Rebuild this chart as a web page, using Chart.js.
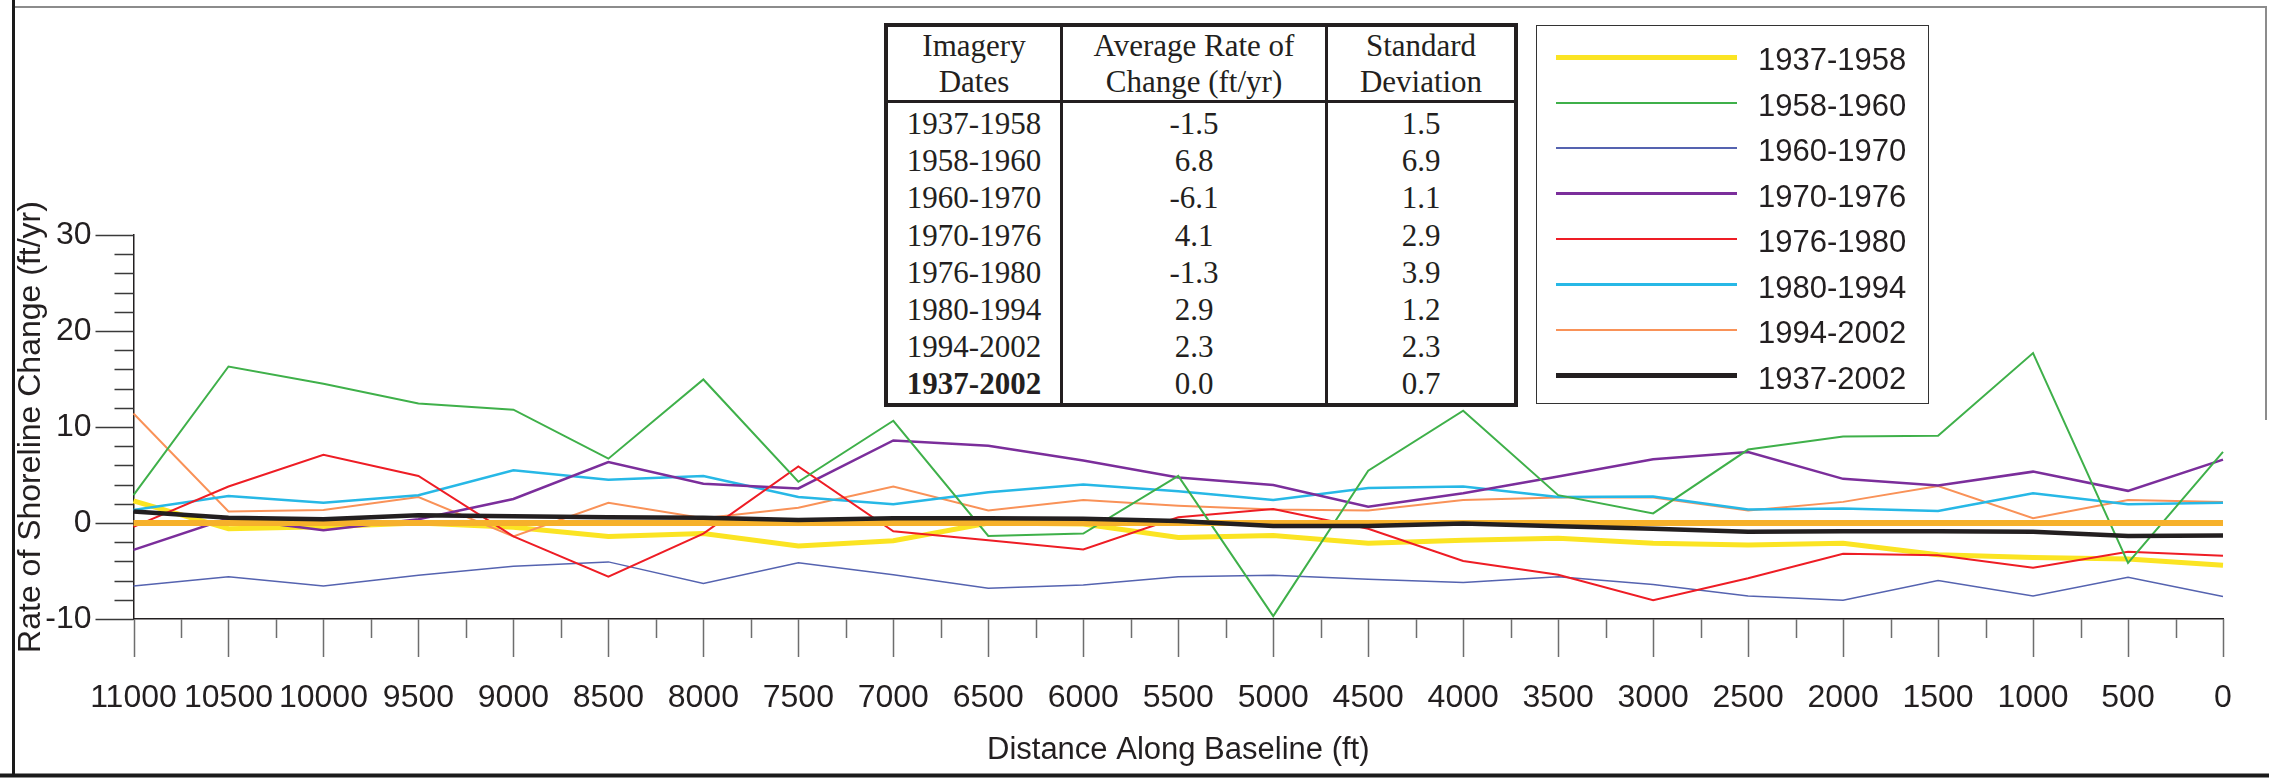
<!DOCTYPE html>
<html>
<head>
<meta charset="utf-8">
<title>Rate of Shoreline Change</title>
<script src="https://cdn.jsdelivr.net/npm/chart.js@4.4.0/dist/chart.umd.min.js"></script>
<style>
  html, body { margin: 0; padding: 0; background: #fff; }
  #wrap { position: relative; width: 2269px; height: 782px; overflow: hidden; background: #fff; }
  #shorelineChart { position: absolute; left: 0; top: 0; }

  #statsTable {
    position: absolute; left: 884px; top: 23px;
    border-collapse: separate; border-spacing: 0;
    border: 4px solid #231f20; table-layout: fixed;
    font-family: "Liberation Serif", "Times New Roman", serif;
    font-size: 31px; color: #231f20; background: #fff;
  }
  #statsTable td, #statsTable th { padding: 0; text-align: center; font-weight: normal; white-space: nowrap; }
  #statsTable th { height: 73px; line-height: 36px; border-bottom: 3px solid #231f20; }
  #statsTable td { height: 37.2px; line-height: 37.2px; }
  #statsTable .c1, #statsTable .c2 { border-right: 3px solid #231f20; }
  #statsTable tbody tr:first-child td { padding-top: 2px; }
  #statsTable .total { font-weight: bold; }

  #legendBox {
    position: absolute; left: 1536px; top: 25px; width: 391px; height: 377px;
    border: 1.5px solid #333; background: #fff;
    font-family: "Liberation Sans", Arial, sans-serif; font-size: 31px; color: #231f20;
  }
  .legend-row { position: absolute; left: 0; height: 46px; display: flex; align-items: center; }
  .legend-swatch { margin-left: 19px; width: 181px; }
  .legend-text { margin-left: 21px; line-height: 46px; position: relative; top: 3px; }
</style>
</head>
<body>
<div id="wrap">
  <canvas id="shorelineChart" width="2269" height="782"></canvas>
  <table id="statsTable">
    <colgroup><col style="width:175px"><col style="width:265px"><col style="width:186px"></colgroup>
    <thead>
      <tr>
        <th class="c1">Imagery<br>Dates</th>
        <th class="c2">Average Rate of<br>Change (ft/yr)</th>
        <th>Standard<br>Deviation</th>
      </tr>
    </thead>
    <tbody id="statsBody"></tbody>
  </table>
  <div id="legendBox"></div>
</div>

<script>
// Transect positions along the baseline (ft), plotted from 11000 down to 0
const distances = [11000, 10500, 10000, 9500, 9000, 8500, 8000, 7500, 7000, 6500, 6000, 5500,
                   5000, 4500, 4000, 3500, 3000, 2500, 2000, 1500, 1000, 500, 0];

// Rate of shoreline change (ft/yr) at each transect, one array per imagery interval
const rate1937to1958 = [2.3, -0.6, -0.4, 0.0, -0.45, -1.4, -1.1, -2.4, -1.85, 0.0, -0.1, -1.5,
                        -1.3, -2.1, -1.8, -1.6, -2.1, -2.3, -2.1, -3.3, -3.6, -3.75, -4.4];
const rate1958to1960 = [2.9, 16.3, 14.5, 12.45, 11.8, 6.7, 14.95, 4.3, 10.65, -1.35, -1.1, 4.9,
                        -9.7, 5.45, 11.7, 2.9, 1.0, 7.65, 9.0, 9.1, 17.7, -4.15, 7.4];
const rate1960to1970 = [-6.55, -5.6, -6.55, -5.45, -4.5, -4.05, -6.3, -4.15, -5.4, -6.8, -6.45, -5.6,
                        -5.45, -5.85, -6.2, -5.6, -6.4, -7.6, -8.05, -6.0, -7.6, -5.65, -7.65];
const rate1970to1976 = [-2.8, 0.5, -0.76, 0.4, 2.5, 6.35, 4.1, 3.6, 8.6, 8.05, 6.5, 4.75,
                        3.95, 1.7, 3.1, 4.85, 6.65, 7.4, 4.6, 3.9, 5.35, 3.35, 6.6];
const rate1976to1980 = [-0.4, 3.8, 7.1, 4.9, -1.4, -5.6, -1.1, 5.9, -0.87, -1.8, -2.75, 0.6,
                        1.45, -0.6, -3.95, -5.4, -8.05, -5.75, -3.2, -3.35, -4.65, -3.0, -3.4];
const rate1980to1994 = [1.35, 2.8, 2.1, 2.9, 5.5, 4.5, 4.9, 2.7, 1.95, 3.2, 4.0, 3.3,
                        2.4, 3.65, 3.8, 2.7, 2.75, 1.4, 1.5, 1.25, 3.1, 1.95, 2.1];
const rate1994to2002 = [11.4, 1.2, 1.35, 2.7, -1.4, 2.1, 0.5, 1.6, 3.8, 1.3, 2.4, 1.8,
                        1.4, 1.3, 2.4, 2.65, 2.65, 1.3, 2.2, 3.85, 0.5, 2.4, 2.2];
const rate1937to2002 = [1.2, 0.55, 0.4, 0.8, 0.7, 0.6, 0.55, 0.3, 0.5, 0.5, 0.45, 0.2,
                        -0.3, -0.3, -0.05, -0.35, -0.6, -0.9, -0.85, -0.85, -0.9, -1.35, -1.3];
// Zero-change reference line
const zeroRate = [0, 0, 0, 0, 0, 0, 0, 0, 0, 0, 0, 0, 0, 0, 0, 0, 0, 0, 0, 0, 0, 0, 0];

// Summary table
const periods = ['1937-1958', '1958-1960', '1960-1970', '1970-1976', '1976-1980', '1980-1994', '1994-2002', '1937-2002'];
const avgRate = [-1.5, 6.8, -6.1, 4.1, -1.3, 2.9, 2.3, 0.0];
const stdDev  = [1.5, 6.9, 1.1, 2.9, 3.9, 1.2, 2.3, 0.7];

// Y axis range (ft/yr)
const yMin = -10;
const yMax = 30;

const textColor = '#231f20';
const sansFont = '"Liberation Sans", Arial, sans-serif';

// Fill the summary table
const statsBody = document.getElementById('statsBody');
periods.forEach(function(p, i) {
    const tr = document.createElement('tr');
    const bold = i === periods.length - 1 ? ' total' : '';
    tr.innerHTML = '<td class="c1' + bold + '">' + p + '</td>' +
                   '<td class="c2">' + avgRate[i].toFixed(1) + '</td>' +
                   '<td>' + stdDev[i].toFixed(1) + '</td>';
    statsBody.appendChild(tr);
});

// Major/minor tick marks on both axes
const axisTicks = {
    id: 'axisTicks',
    afterDraw(chart) {
        const {ctx, chartArea} = chart;
        const x = chart.scales.x;
        const y = chart.scales.y;
        ctx.save();
        ctx.lineWidth = 1.5;
        ctx.strokeStyle = '#6e6e6e';
        ctx.beginPath();
        for (let i = 0; i < distances.length; i++) {
            const px = Math.round(x.getPixelForValue(i)) + 0.5;
            ctx.moveTo(px, chartArea.bottom);
            ctx.lineTo(px, chartArea.bottom + 38);
            if (i < distances.length - 1) {
                const mid = Math.round((x.getPixelForValue(i) + x.getPixelForValue(i + 1)) / 2) + 0.5;
                ctx.moveTo(mid, chartArea.bottom);
                ctx.lineTo(mid, chartArea.bottom + 19);
            }
        }
        ctx.stroke();

        ctx.strokeStyle = '#3a3a3a';
        ctx.beginPath();
        for (let v = yMin; v <= yMax; v += 2) {
            const py = Math.round(y.getPixelForValue(v)) + 0.5;
            const len = v % 10 === 0 ? 38 : 19;
            ctx.moveTo(chartArea.left, py);
            ctx.lineTo(chartArea.left - len, py);
        }
        ctx.stroke();
        ctx.restore();
    }
};

// Outer frame around the figure
const figureFrame = {
    id: 'figureFrame',
    afterDraw(chart) {
        const ctx = chart.ctx;
        ctx.save();
        ctx.strokeStyle = '#8c8c8c';
        ctx.lineWidth = 2;
        ctx.beginPath();
        ctx.moveTo(14, 7);
        ctx.lineTo(2267, 7);
        ctx.moveTo(2266, 7);
        ctx.lineTo(2266, 420);
        ctx.stroke();

        ctx.strokeStyle = '#1a1a1a';
        ctx.lineWidth = 3;
        ctx.beginPath();
        ctx.moveTo(13.5, 0);
        ctx.lineTo(13.5, 777);
        ctx.stroke();
        ctx.lineWidth = 4;
        ctx.beginPath();
        ctx.moveTo(0, 775.5);
        ctx.lineTo(2269, 775.5);
        ctx.stroke();
        ctx.restore();
    }
};

function series(label, data, color, width, order) {
    return {
        label: label,
        data: data,
        borderColor: color,
        backgroundColor: color,
        borderWidth: width,
        pointRadius: 0,
        tension: 0,
        fill: false,
        order: order
    };
}

const ctx = document.getElementById('shorelineChart').getContext('2d');
const shorelineChart = new Chart(ctx, {
    type: 'line',
    data: {
        labels: distances.map(String),
        datasets: [
            series('1937-1958', rate1937to1958, '#fbe423', 5, 9),
            series('1958-1960', rate1958to1960, '#3fb04a', 2, 2),
            series('1960-1970', rate1960to1970, '#5563b0', 1.5, 7),
            series('1970-1976', rate1970to1976, '#7b2e9b', 2.5, 4),
            series('1976-1980', rate1976to1980, '#ee1d25', 2, 3),
            series('1980-1994', rate1980to1994, '#27b8e6', 2.5, 5),
            series('1994-2002', rate1994to2002, '#f99258', 2, 6),
            series('1937-2002', rate1937to2002, '#231f20', 4.5, 0),
            series('', zeroRate, '#f6b12b', 6, 1)
        ]
    },
    options: {
        responsive: false,
        animation: false,
        layout: { padding: { left: 0, right: 46, top: 235, bottom: 0 } },
        plugins: {
            legend: { display: false },
            tooltip: { enabled: false }
        },
        scales: {
            x: {
                type: 'category',
                grid: { display: false, drawTicks: false },
                border: { display: true, color: textColor, width: 1.5 },
                ticks: {
                    autoSkip: false,
                    maxRotation: 0,
                    padding: 60,
                    color: textColor,
                    font: { family: sansFont, size: 32 }
                },
                title: {
                    display: true,
                    text: 'Distance Along Baseline (ft)',
                    color: textColor,
                    font: { family: sansFont, size: 31 },
                    padding: { top: 0, bottom: 13 }
                },
                afterFit(scale) {
                    scale.height = 163;
                    scale.paddingLeft = 0;
                    scale.paddingRight = 0;
                }
            },
            y: {
                min: yMin,
                max: yMax,
                grid: { display: false, drawTicks: false },
                border: { display: true, color: textColor, width: 1.5 },
                ticks: {
                    stepSize: 10,
                    padding: 42,
                    color: textColor,
                    font: { family: sansFont, size: 32 }
                },
                title: {
                    display: true,
                    text: 'Rate of Shoreline Change (ft/yr)',
                    color: textColor,
                    font: { family: sansFont, size: 32 },
                    padding: { top: 12, bottom: 0 }
                },
                afterFit(scale) {
                    scale.width = 133.5;
                    scale.paddingTop = 0;
                    scale.paddingBottom = 0;
                }
            }
        }
    },
    plugins: [axisTicks, figureFrame]
});

// Legend box built from the plotted datasets
const legendBox = document.getElementById('legendBox');
shorelineChart.data.datasets.filter(ds => ds.label).forEach(function(ds, i) {
    const row = document.createElement('div');
    row.className = 'legend-row';
    row.style.top = (31.2 + 45.5 * i - 23) + 'px';
    row.innerHTML = '<span class="legend-swatch" style="height:' + Math.max(ds.borderWidth, 2) +
                    'px;background:' + ds.borderColor + '"></span>' +
                    '<span class="legend-text">' + ds.label + '</span>';
    legendBox.appendChild(row);
});
</script>
</body>
</html>
